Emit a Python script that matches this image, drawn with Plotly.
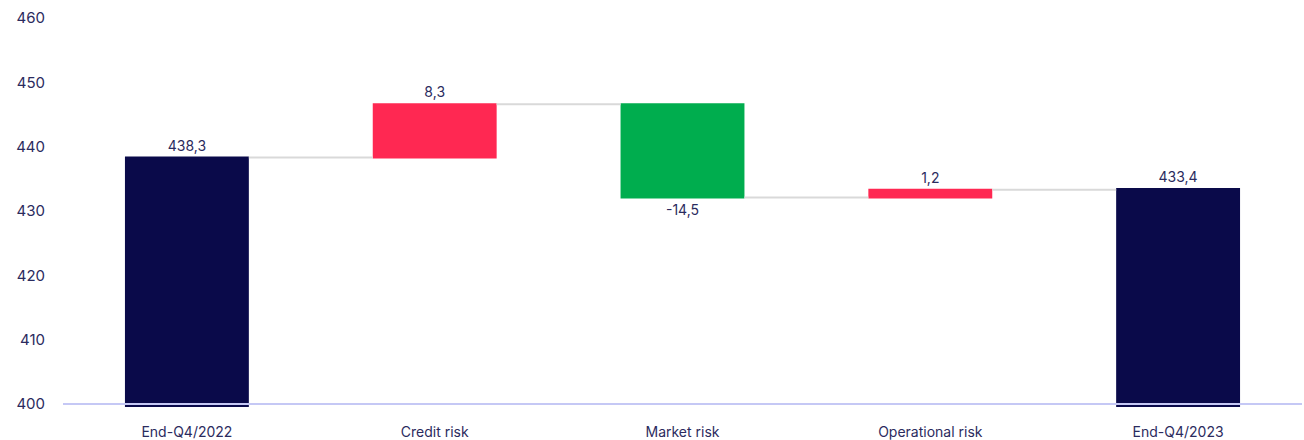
import plotly.graph_objects as go

categories = ["End-Q4/2022", "Credit risk", "Market risk", "Operational risk", "End-Q4/2023"]
values = [438.3, 8.3, -14.5, 1.2, 433.4]
measures = ["absolute", "relative", "relative", "relative", "absolute"]
labels = ["438,3", "8,3", "-14,5", "1,2", "433,4"]
y_ticks = [400, 410, 420, 430, 440, 450, 460]

NAVY = "#0a0a4a"
RED = "#ff2852"
GREEN = "#00ad4e"
TXT = "#2b2b5e"

fig = go.Figure(go.Waterfall(
    x=categories,
    y=values,
    measure=measures,
    text=labels,
    textposition="outside",
    textfont=dict(family="Inter, Lato, sans-serif", size=14, color=TXT),
    cliponaxis=False,
    increasing=dict(marker=dict(color=RED)),
    decreasing=dict(marker=dict(color=GREEN)),
    totals=dict(marker=dict(color=NAVY)),
    connector=dict(line=dict(color="#d9d9d9", width=2), mode="between"),
    width=0.5,
))

fig.add_shape(type="line", xref="paper", yref="y", x0=0, x1=1, y0=400, y1=400,
              line=dict(color="#c5c8f5", width=2), layer="above")

fig.update_layout(
    width=1304, height=440,
    margin=dict(l=63, r=2, t=18, b=33),
    plot_bgcolor="white", paper_bgcolor="white",
    showlegend=False,
    font=dict(family="Inter, Lato, sans-serif", size=14, color=TXT),
    bargap=0.5,
)
fig.update_yaxes(range=[399.53, 460], tickvals=y_ticks, showgrid=False, zeroline=False,
                 showline=False, ticks="", ticklabelstandoff=17, automargin=False,
                 tickfont=dict(size=15, color=TXT))
fig.update_xaxes(showgrid=False, showline=False, ticks="", ticklabelstandoff=15,
                 automargin=False, tickfont=dict(size=14, color=TXT))

fig.write_html("out.html")
